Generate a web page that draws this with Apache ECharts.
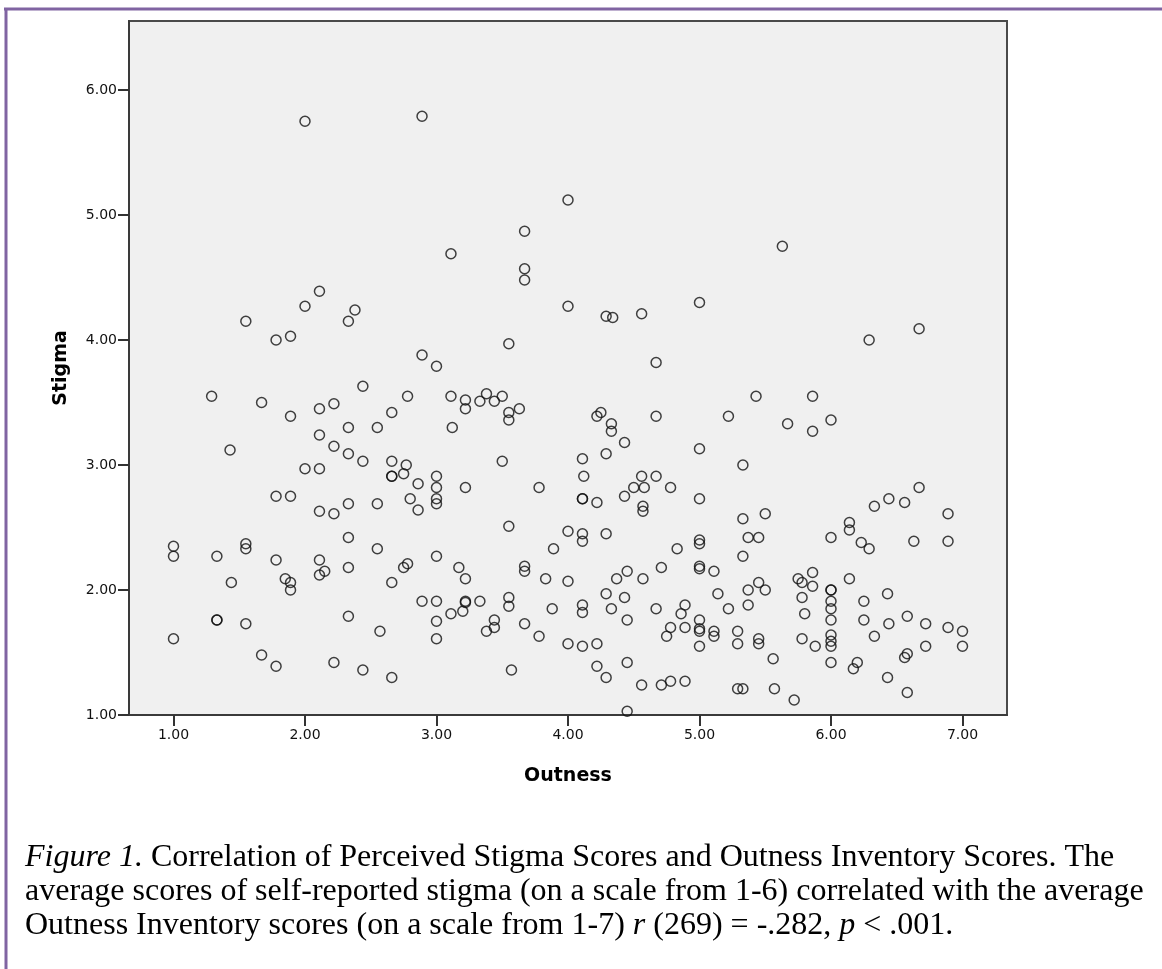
<!DOCTYPE html>
<html>
<head>
<meta charset="utf-8">
<style>
  html, body { margin: 0; padding: 0; background: #ffffff; }
  #chart { width: 1162px; height: 969px; }
</style>
<script src="https://cdn.jsdelivr.net/npm/echarts@6/dist/echarts.min.js"></script>
</head>
<body>
<div id="chart"></div>
<script>
// Outness Inventory score (x) and perceived Stigma score (y), one entry per respondent
const outness = [
  2.00,2.89,4.00,3.67,3.11,3.67,3.67,4.00,2.11,2.00,1.55,2.38,2.33,1.78,1.89,2.89,3.00,3.55,5.63,4.29,4.34,4.56,5.00,4.67,6.29,6.67,
  1.29,1.67,1.89,2.11,2.22,2.44,2.78,2.66,2.33,2.55,2.11,2.22,2.33,2.44,1.43,2.00,2.11,1.78,1.89,2.11,2.22,2.33,2.55,2.66,2.77,2.75,2.66,2.66,2.86,2.80,2.86,3.00,3.00,3.00,3.00,3.11,3.12,3.22,3.22,3.33,3.38,3.44,3.50,3.55,3.55,3.63,3.50,3.22,3.78,3.55,4.00,3.89,
  1.00,1.00,1.33,1.55,1.55,1.78,1.44,1.85,1.89,1.89,2.11,2.15,2.11,2.33,2.33,2.55,2.66,2.75,2.78,3.00,3.17,3.22,3.67,3.67,3.83,4.00,2.89,3.00,3.11,3.20,3.22,3.22,3.33,3.55,3.55,3.00,3.00,2.33,2.57,3.44,3.44,3.38,3.67,3.88,3.78,4.00,1.00,1.33,1.33,1.55,1.67,1.78,2.22,2.44,2.66,3.57,
  5.43,5.86,5.22,5.67,5.86,6.00,4.22,4.25,4.33,4.33,4.67,4.43,4.29,4.11,4.12,5.00,5.33,4.56,4.67,4.50,4.58,4.78,4.43,4.11,4.11,4.22,4.57,4.57,5.00,5.33,5.50,4.11,4.11,4.29,5.00,5.00,4.83,5.37,5.45,5.33,6.00,6.14,6.14,6.23,6.29,6.33,6.44,6.56,6.67,6.63,6.89,6.89,
  4.45,4.37,4.57,4.71,5.00,5.00,5.11,4.29,4.43,4.11,4.11,4.33,4.45,4.67,4.89,4.86,5.14,5.22,5.37,5.37,5.45,5.50,5.75,5.78,5.86,5.86,5.78,5.80,6.00,6.00,6.00,6.00,6.00,6.00,6.00,6.00,6.00,6.14,6.25,6.43,6.25,6.44,6.33,6.58,6.72,6.89,7.00,6.72,7.00,6.58,6.56,6.20,6.17,6.43,6.58,
  4.11,4.22,4.22,4.29,4.45,4.45,4.56,4.71,4.78,4.89,4.78,4.75,4.89,5.00,5.00,5.00,5.00,5.11,5.11,5.29,5.29,5.45,5.45,5.56,5.29,5.33,5.57,5.72,5.78,5.88
];
const stigma = [
  5.75,5.79,5.12,4.87,4.69,4.57,4.48,4.27,4.39,4.27,4.15,4.24,4.15,4.00,4.03,3.88,3.79,3.97,4.75,4.19,4.18,4.21,4.30,3.82,4.00,4.09,
  3.55,3.50,3.39,3.45,3.49,3.63,3.55,3.42,3.30,3.30,3.24,3.15,3.09,3.03,3.12,2.97,2.97,2.75,2.75,2.63,2.61,2.69,2.69,3.03,3.00,2.93,2.91,2.91,2.85,2.73,2.64,2.91,2.82,2.73,2.69,3.55,3.30,3.52,3.45,3.51,3.57,3.51,3.55,3.42,3.36,3.45,3.03,2.82,2.82,2.51,2.47,2.33,
  2.35,2.27,2.27,2.37,2.33,2.24,2.06,2.09,2.06,2.00,2.24,2.15,2.12,2.42,2.18,2.33,2.06,2.18,2.21,2.27,2.18,2.09,2.19,2.15,2.09,2.07,1.91,1.91,1.81,1.83,1.91,1.90,1.91,1.94,1.87,1.75,1.61,1.79,1.67,1.76,1.70,1.67,1.73,1.85,1.63,1.57,1.61,1.76,1.76,1.73,1.48,1.39,1.42,1.36,1.30,1.36,
  3.55,3.55,3.39,3.33,3.27,3.36,3.39,3.42,3.33,3.27,3.39,3.18,3.09,3.05,2.91,3.13,3.00,2.91,2.91,2.82,2.82,2.82,2.75,2.73,2.73,2.70,2.67,2.63,2.73,2.57,2.61,2.45,2.39,2.45,2.40,2.37,2.33,2.42,2.42,2.27,2.42,2.54,2.48,2.38,2.33,2.67,2.73,2.70,2.82,2.39,2.61,2.39,
  2.15,2.09,2.09,2.18,2.19,2.17,2.15,1.97,1.94,1.88,1.82,1.85,1.76,1.85,1.88,1.81,1.97,1.85,1.88,2.00,2.06,2.00,2.09,2.06,2.14,2.03,1.94,1.81,2.00,2.00,1.91,1.85,1.76,1.64,1.59,1.55,1.42,2.09,1.91,1.97,1.76,1.73,1.63,1.79,1.73,1.70,1.67,1.55,1.55,1.49,1.46,1.42,1.37,1.30,1.18,
  1.55,1.57,1.39,1.30,1.42,1.03,1.24,1.24,1.27,1.27,1.70,1.63,1.70,1.76,1.69,1.67,1.55,1.67,1.63,1.67,1.57,1.61,1.57,1.45,1.21,1.21,1.21,1.12,1.61,1.55
];
const xTicks = [1, 2, 3, 4, 5, 6, 7];
const yTicks = [1, 2, 3, 4, 5, 6];
const xName = 'Outness';
const yName = 'Stigma';
const captionLines = [
  '{i|Figure 1.} Correlation of Perceived Stigma Scores and Outness Inventory Scores. The',
  'average scores of self-reported stigma (on a scale from 1-6) correlated with the average',
  'Outness Inventory scores (on a scale from 1-7) {i|r} (269) = -.282, {i|p} < .001.'
];

const points = outness.map((v, i) => [v, stigma[i]]);

const chart = echarts.init(document.getElementById('chart'), null, { renderer: 'canvas' });

const axisFont = { fontFamily: 'DejaVu Sans', fontSize: 14, color: '#111' };
const capFont = 'Liberation Serif';
const capSize = 32;

chart.setOption({
  animation: false,
  backgroundColor: '#ffffff',
  grid: {
    left: 129, top: 21, right: 155, bottom: 254,
    show: true, backgroundColor: '#f0f0f0', borderColor: '#4a4a4a', borderWidth: 2
  },
  xAxis: {
    type: 'value', min: 0.6616, max: 7.3384,
    name: xName, nameLocation: 'middle', nameGap: 52,
    nameTextStyle: { fontFamily: 'DejaVu Sans', fontSize: 19, fontWeight: 'bold', color: '#000' },
    axisLine: { show: true, onZero: false, lineStyle: { color: '#3a3a3a', width: 2 } },
    axisTick: { show: true, inside: false, length: 11, customValues: xTicks, lineStyle: { color: '#333', width: 2 } },
    axisLabel: { show: true, margin: 13, customValues: xTicks, formatter: v => v.toFixed(2), ...axisFont },
    splitLine: { show: false }
  },
  yAxis: {
    type: 'value', min: 1, max: 6.552,
    name: yName, nameLocation: 'middle', nameGap: 58,
    nameTextStyle: { fontFamily: 'DejaVu Sans', fontSize: 19, fontWeight: 'bold', color: '#000' },
    axisLine: { show: true, onZero: false, lineStyle: { color: '#3a3a3a', width: 2 } },
    axisTick: { show: true, inside: false, length: 11, customValues: yTicks, lineStyle: { color: '#333', width: 2 } },
    axisLabel: { show: true, margin: 12, customValues: yTicks, formatter: v => v.toFixed(2), ...axisFont },
    splitLine: { show: false }
  },
  series: [{
    type: 'scatter',
    data: points,
    symbol: 'circle',
    symbolSize: 10,
    itemStyle: { color: 'rgba(0,0,0,0)', borderColor: '#111111', borderWidth: 1.5 },
    emphasis: { disabled: true }
  }],
  graphic: [
    { type: 'line', silent: true, shape: { x1: 4, y1: 9, x2: 1162, y2: 9 }, style: { stroke: '#8064a2', lineWidth: 3 } },
    { type: 'line', silent: true, shape: { x1: 6, y1: 8, x2: 6, y2: 969 }, style: { stroke: '#8064a2', lineWidth: 3 } }
  ].concat(captionLines.map((t, k) => ({
    type: 'text', silent: true, left: 25, top: 842 + k * 34,
    style: {
      text: t, fontFamily: capFont, fontSize: capSize, fill: '#000',
      rich: { i: { fontFamily: capFont, fontSize: capSize, fontStyle: 'italic', color: '#000' } }
    }
  })))
});
</script>
</body>
</html>
